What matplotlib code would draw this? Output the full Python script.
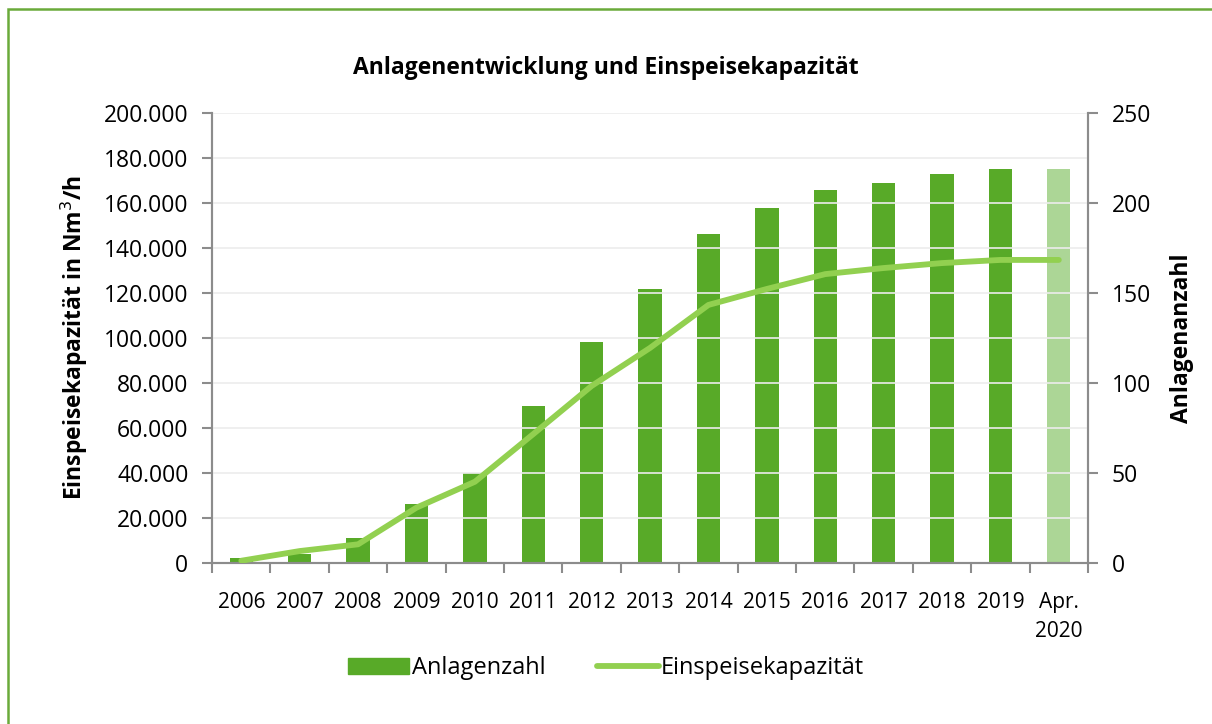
import numpy as np
import matplotlib.pyplot as plt
from matplotlib.patches import Rectangle
from matplotlib.ticker import FuncFormatter, FixedLocator
from matplotlib.lines import Line2D

plt.rcParams['font.family'] = ['Open Sans', 'DejaVu Sans']

years = ['2006', '2007', '2008', '2009', '2010', '2011', '2012', '2013',
         '2014', '2015', '2016', '2017', '2018', '2019', 'Apr.\n2020']
anlagenzahl = [3, 5, 14, 33, 50, 87, 123, 152, 183, 197, 207, 211, 216, 219, 219]
kapazitaet = [1000, 5300, 8300, 24600, 36100, 57300, 78700, 95600, 114700,
              121800, 128400, 131100, 133300, 134700, 134700]

bar_green = '#58aa28'
bar_light = '#acd696'
line_green = '#92d050'
axis_grey = '#8c8c8c'

fig = plt.figure(figsize=(12.12, 7.24), dpi=100)
ax = fig.add_axes([0.175, 0.2224, 0.7227, 0.6215])
ax2 = ax.twinx()

x = np.arange(len(years))
colors = [bar_green] * (len(years) - 1) + [bar_light]
ax2.bar(x, anlagenzahl, width=0.4, color=colors, zorder=2)
ax.plot(x, kapazitaet, color=line_green, linewidth=4.2, solid_capstyle='round', zorder=3)

# Linie über den Balken
ax.set_zorder(ax2.get_zorder() + 1)
ax.patch.set_visible(False)

ax.set_xlim(-0.5, len(years) - 0.5)
ax.set_ylim(0, 200000)
ax2.set_ylim(0, 250)
ax.set_yticks(np.arange(0, 200001, 20000))
ax2.set_yticks(np.arange(0, 251, 50))
ax.yaxis.set_major_formatter(FuncFormatter(lambda v, p: f'{int(v):,}'.replace(',', '.')))

ax.set_xticks(x)
ax.set_xticklabels(years, linespacing=1.5)
ax.tick_params(axis='x', which='major', length=0, pad=21, labelsize=15)
ax.xaxis.set_minor_locator(FixedLocator(np.arange(-0.5, len(years), 1.0)))
ax.tick_params(axis='x', which='minor', length=7, color=axis_grey, width=1.5)
ax.tick_params(axis='y', length=7, color=axis_grey, width=1.5, labelsize=16.5, pad=10)
ax2.tick_params(axis='y', length=7, color=axis_grey, width=1.5, labelsize=16.5, pad=10)

ax2.grid(False)
ax.grid(axis='y', color='#ececec', linewidth=1.2, zorder=0)
ax.set_axisbelow(True)

for a in (ax, ax2):
    a.spines['top'].set_visible(False)
    for s in ('left', 'right', 'bottom'):
        a.spines[s].set_color(axis_grey)
        a.spines[s].set_linewidth(1.5)

ax.set_ylabel('Einspeisekapazität in Nm$^3$/h', fontsize=16.5, fontweight='bold', labelpad=10)
ax2.set_ylabel('Anlagenanzahl', fontsize=16.5, fontweight='bold', labelpad=14)

fig.text(0.5, 0.906, 'Anlagenentwicklung und Einspeisekapazität', ha='center',
         va='center', fontsize=16.5, fontweight='bold')

handles = [Rectangle((0, 0), 1, 1, color=bar_green),
           Line2D([0], [0], color=line_green, linewidth=4.2, solid_capstyle='round')]
fig.legend(handles, ['Anlagenzahl', 'Einspeisekapazität'], loc='center',
           bbox_to_anchor=(0.5, 0.077), ncol=2, frameon=False, fontsize=17,
           handlelength=2.6, handletextpad=0.1, columnspacing=2.2)

# grüner Rahmen (rechter und unterer Rand liegen außerhalb des Bildes)
fig.patches.append(Rectangle((8 / 1212, -0.05), 1.1, 1 - 9 / 724 + 0.05,
                             transform=fig.transFigure, fill=False,
                             edgecolor='#6aaa3a', linewidth=1.8))

fig.savefig('out.png', dpi=100)
